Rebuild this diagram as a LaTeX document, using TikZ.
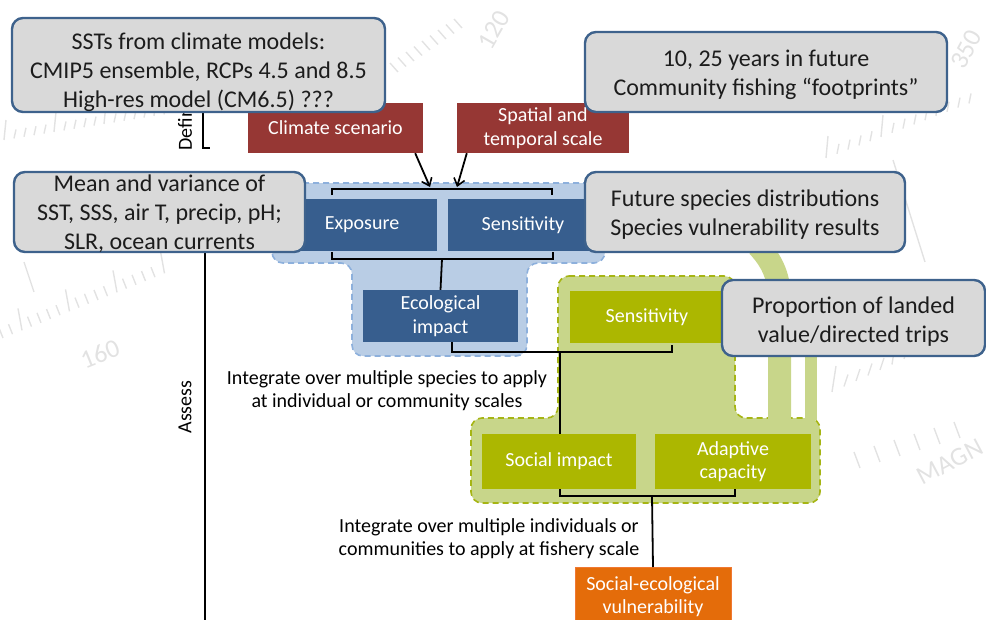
\documentclass[tikz,border=0pt]{standalone}
\usepackage{fontspec}
\setmainfont{Carlito}
\usetikzlibrary{arrows.meta,calc}

\definecolor{calfill}{RGB}{217,217,217}
\definecolor{calline}{RGB}{62,98,140}
\definecolor{redbox}{RGB}{150,55,52}
\definecolor{bluebox}{RGB}{55,94,142}
\definecolor{bluezone}{RGB}{185,205,229}
\definecolor{bluedash}{RGB}{141,176,220}
\definecolor{olivebox}{RGB}{172,183,0}
\definecolor{greenzone}{RGB}{200,214,138}
\definecolor{greendash}{RGB}{166,181,20}
\definecolor{orangebox}{RGB}{228,108,10}
\definecolor{orangeline}{RGB}{240,120,50}
\definecolor{textdark}{RGB}{28,28,28}
\definecolor{faint}{RGB}{226,226,226}

\begin{document}
\begin{tikzpicture}[x=1pt,y=-1pt,
  callout/.style={draw=calline, fill=calfill, line width=2.4pt, rounded corners=11pt, inner sep=0pt},
  calltext/.style={inner sep=0pt, align=center, text=textdark, font=\fontsize{24}{29}\selectfont},
  stepbox/.style={inner sep=0pt, align=center, text=white, font=\fontsize{20}{23.5}\selectfont},
  redstep/.style={stepbox, fill=redbox},
  bluestep/.style={stepbox, fill=bluebox},
  olivestep/.style={stepbox, fill=olivebox},
  orangestep/.style={stepbox, fill=orangebox, draw=orangeline, line width=1pt},
  zone/.style={line width=1.6pt, dash pattern=on 6pt off 4pt, rounded corners=11pt},
  conn/.style={black, line width=1.8pt},
  arr/.style={conn, -{Straight Barb[length=7pt,width=11pt,line width=1.6pt]}},
  note/.style={align=center, text=black, font=\fontsize{20}{23}\selectfont},
  axislabel/.style={text=black, font=\fontsize{20}{22}\selectfont, rotate=90},
  tick/.style={faint, line width=1.4pt},
  wm/.style={text=faint, font=\fontsize{26}{26}\selectfont}
]
\useasboundingbox (0,0) rectangle (986,619);

% ---- faint compass dial in the background ----
\foreach \i in {0,...,17}{
  \pgfmathsetmacro{\len}{ifthenelse(mod(\i,5)==0,20,9)}
  \draw[tick] ({4+10*\i},{140-1.6*\i}) -- ++({2},{-\len});
}
\foreach \i in {0,...,17}{
  \pgfmathsetmacro{\len}{ifthenelse(mod(\i,5)==2,22,10)}
  \draw[tick] ({3+9.5*\i},{338-3.8*\i}) -- ++({-4},{-\len});
}
\draw[tick] (24,262) -- (34,292);
\node[wm, rotate=22] (dial160) at (100,354) {160};
\foreach \i in {0,...,8}{
  \draw[tick] ({398+8*\i},{72-5.5*\i}) -- ++({-8},{-9});
}
\node[wm, rotate=60] (dial120) at (494,30) {120};
\node[wm, rotate=62, anchor=west] (dial350) at (955,70) {350};
\foreach \i in {0,...,13}{
  \pgfmathsetmacro{\len}{ifthenelse(mod(\i,5)==0,22,10)}
  \draw[tick] ({826+11*\i},{158-4.2*\i}) -- ++({2},{-\len});
}
\foreach \i in {0,...,9}{
  \pgfmathsetmacro{\len}{ifthenelse(mod(\i,5)==0,26,12)}
  \draw[tick] ({832+12*\i},{392-5.5*\i}) -- ++({4},{-\len});
}
\foreach \i in {0,...,5}{
  \draw[tick] ({860+20*\i},{468-6*\i}) -- ++({-6},{-16});
}
\draw[tick] (893,160) -- (925,262);
\node[wm, rotate=28] (dialmag) at (950,462) {MAGN};

% ---- light blue zone (exposure / sensitivity / ecological impact) ----
\draw[zone, fill=bluezone, draw=bluedash]
  (272,183) -- (605,183) -- (605,263) -- (527,263) -- (527,356)
  -- (352,356) -- (352,263) -- (272,263) -- cycle;

% ---- light green zone (social side) ----
\draw[zone, fill=greenzone, draw=greendash]
  (558,276) -- (735,276) -- (735,418) -- (820,418) -- (820,503)
  -- (471,503) -- (471,418) -- (558,418) -- cycle;
\draw[greenzone, line width=23pt] (779.5,421) -- (779.5,300)
  .. controls (779.5,278) and (773,262) .. (758,246);
\fill[greenzone] (805,356) rectangle (817,420);

% ---- Define / Assess axis ----
\coordinate (defTop) at (203,100);
\coordinate (defBot) at (203,148);
\coordinate (defFoot) at (210,148);
\draw[conn] (defTop) -- (defBot) -- (defFoot);
\coordinate (assTop) at (205,240);
\coordinate (assBot) at (205,630);
\draw[conn] (assTop) -- (assBot);
\node[axislabel, anchor=west] (define) at (185,154) {Define};
\node[axislabel] (assess) at (185,407) {Assess};

% ---- step boxes ----
\node[redstep, minimum width=175pt, minimum height=50pt] (cs) at (335.5,128) {Climate scenario};
\node[redstep, minimum width=172pt, minimum height=50pt] (sp) at (543,128) {Spatial and\\temporal scale};

\coordinate (topL) at (332,195);
\coordinate (topLc) at (332,189);
\coordinate (topRc) at (552,189);
\coordinate (topR) at (552,195);
\coordinate (botL) at (332,252);
\coordinate (botLc) at (332,259);
\coordinate (botRc) at (553,259);
\coordinate (botR) at (553,252);
\coordinate (botMid) at (442,259);
\draw[conn] (topL) -- (topLc) -- (topRc) -- (topR);
\draw[conn] (botL) -- (botLc) -- (botRc) -- (botR);
\coordinate (hitA) at (430,187);
\coordinate (hitB) at (457,187);
\draw[arr] ([xshift=-8pt]cs.south east) -- (hitA);
\draw[arr] ([xshift=10pt]sp.south west) -- (hitB);

\node[bluestep, minimum width=150pt, minimum height=52pt] (expo) at (362,225) {Exposure};
\node[bluestep, minimum width=150pt, minimum height=52pt] (sens) at (523,225) {Sensitivity};
\node[bluestep, minimum width=155pt, minimum height=52pt] (eco) at (440.5,316) {Ecological\\impact};
\draw[conn] (botMid) -- (eco.north);

\node[olivestep, minimum width=154pt, minimum height=52pt] (gsens) at (647,317) {Sensitivity};

\coordinate (midL) at (452,342);
\coordinate (midLc) at (452,352);
\coordinate (midRc) at (672,352);
\coordinate (midR) at (672,345);
\coordinate (midMid) at (560,352);
\coordinate (lowL) at (560,496);
\coordinate (lowRc) at (735,496);
\coordinate (lowR) at (735,489);
\coordinate (lowMid) at (652,496);
\draw[conn] (midL) -- (midLc) -- (midRc) -- (midR);
\draw[conn] (midMid) -- (lowL) -- (lowRc) -- (lowR);

\node[olivestep, minimum width=154pt, minimum height=55pt] (soc) at (559,461.5) {Social impact};
\node[olivestep, minimum width=156pt, minimum height=55pt] (adap) at (733,461.5) {Adaptive\\capacity};

\node[orangestep, minimum width=156pt, minimum height=58pt, anchor=north] (sev) at (653,567) {Social-ecological\\vulnerability};
\draw[conn] (lowMid) -- (sev.north);

% ---- integration notes ----
\node[note] (intSpecies) at (387,391) {Integrate over multiple species to apply\\at individual or community scales};
\node[note] (intFishery) at (489,539) {Integrate over multiple individuals or\\communities to apply at fishery scale};

% ---- data callouts: rounded panel, then its text ----
\node[callout, minimum width=373pt, minimum height=94pt] (cSST) at (198.5,65) {};
\node[calltext] (tSST) at ([yshift=-7pt]cSST.center)
  {SSTs from climate models:\\CMIP5 ensemble, RCPs 4.5 and 8.5\\High-res model (CM6.5) ???};
\node[callout, minimum width=362pt, minimum height=80pt] (cYears) at (766,72) {};
\node[calltext] (tYears) at ([yshift=-2.5pt]cYears.center)
  {10, 25 years in future\\Community fishing \textquotedblleft footprints\textquotedblright};
\node[callout, minimum width=291pt, minimum height=80pt] (cMean) at (159.5,212) {};
\node[calltext] (tMean) at ([yshift=-2pt]cMean.center)
  {Mean and variance of\\SST, SSS, air T, precip, pH;\\SLR, ocean currents};
\node[callout, minimum width=320pt, minimum height=80pt] (cFuture) at (745,212) {};
\node[calltext] (tFuture) at ([yshift=-3pt]cFuture.center)
  {Future species distributions\\Species vulnerability results};
\node[callout, minimum width=263pt, minimum height=76pt] (cProp) at (853.5,318) {};
\node[calltext] (tProp) at ([yshift=-3.5pt]cProp.center)
  {Proportion of landed\\value/directed trips};
\end{tikzpicture}
\end{document}
